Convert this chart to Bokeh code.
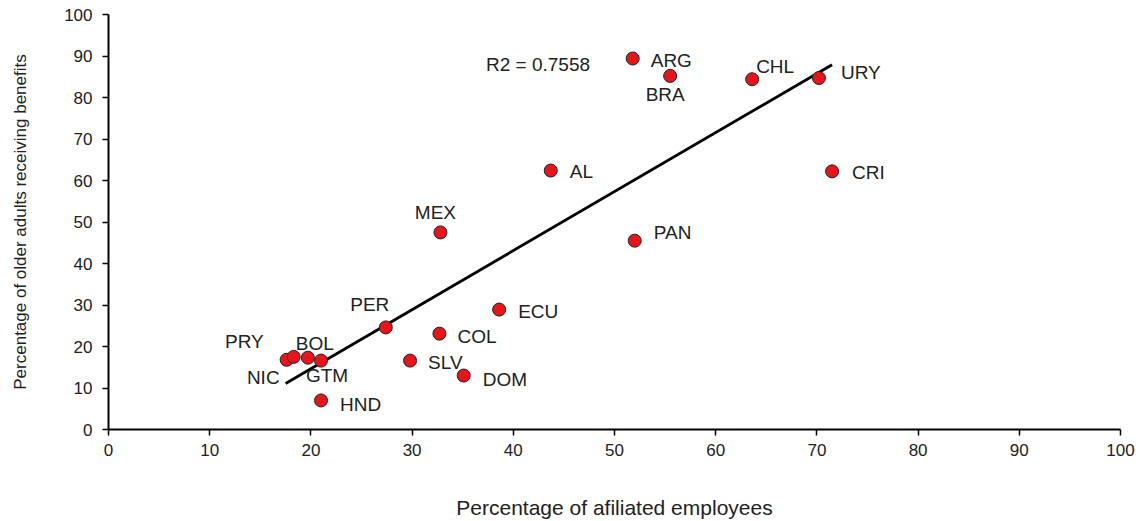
from bokeh.plotting import figure
from bokeh.models import ColumnDataSource, Range1d, Label, FixedTicker
from bokeh.embed import file_html
from bokeh.resources import INLINE
from bokeh.core.properties import value

# ---- data ----
countries = ["ARG", "BRA", "CHL", "URY", "CRI", "AL", "MEX", "PAN", "ECU", "PER",
             "COL", "SLV", "DOM", "HND", "NIC", "PRY", "BOL", "GTM"]
affiliated = [51.8, 55.5, 63.6, 70.2, 71.5, 43.7, 32.8, 52.0, 38.6, 27.4,
              32.7, 29.8, 35.1, 21.0, 17.6, 18.3, 19.7, 21.0]
older_benefits = [89.4, 85.2, 84.4, 84.7, 62.2, 62.4, 47.5, 45.5, 28.9, 24.6,
                  23.1, 16.6, 13.0, 7.0, 16.8, 17.5, 17.3, 16.6]
trend_x = [17.5, 71.5]
trend_y = [11.1, 87.9]
r2_text = "R2 = 0.7558"
x_ticks = [0, 10, 20, 30, 40, 50, 60, 70, 80, 90, 100]
y_ticks = [0, 10, 20, 30, 40, 50, 60, 70, 80, 90, 100]

# ---- label placement (pixel offsets, styling only) ----
label_style = {
    "ARG": (18, 2, "left"), "BRA": (-5, 19, "center"), "CHL": (4, -13, "left"),
    "URY": (22, -5, "left"), "CRI": (20, 1, "left"), "AL": (19, 1, "left"),
    "MEX": (-5, -20, "center"), "PAN": (19, -8, "left"), "ECU": (19, 2, "left"),
    "PER": (-16, -23, "center"), "COL": (18, 3, "left"), "SLV": (18, 2, "left"),
    "DOM": (19, 4, "left"), "HND": (19, 4, "left"), "NIC": (-7, 18, "right"),
    "PRY": (-30, -15, "right"), "BOL": (7, -14, "center"), "GTM": (6, 15, "center"),
}

src = ColumnDataSource(dict(
    x=affiliated, y=older_benefits, name=countries,
    dx=[label_style[c][0] for c in countries],
    dy=[label_style[c][1] for c in countries],
    align=[label_style[c][2] for c in countries],
))

FONT = "Liberation Sans"
TXT = "#222222"

p = figure(width=1141, height=521, output_backend="svg", toolbar_location=None,
           x_range=Range1d(0, 100), y_range=Range1d(0, 100),
           min_border_left=108, min_border_right=21, min_border_top=14, min_border_bottom=92)
p.outline_line_color = None
p.xgrid.grid_line_color = None
p.ygrid.grid_line_color = None
p.background_fill_color = "white"

for ax in (p.xaxis[0], p.yaxis[0]):
    ax.axis_line_color = "black"
    ax.axis_line_width = 2
    ax.major_tick_line_color = "black"
    ax.major_tick_line_width = 1.5
    ax.major_tick_out = 6
    ax.major_tick_in = 0
    ax.minor_tick_line_color = None
    ax.major_label_text_font = FONT
    ax.major_label_text_font_size = "17px"
    ax.major_label_text_color = TXT
    ax.axis_label_text_font = FONT
    ax.axis_label_text_font_style = "normal"
    ax.axis_label_text_color = TXT

p.xaxis.ticker = FixedTicker(ticks=x_ticks)
p.yaxis.ticker = FixedTicker(ticks=y_ticks)
p.xaxis.axis_label = "Percentage of afiliated employees"
p.yaxis.axis_label = "Percentage of older adults receiving benefits"
p.xaxis.axis_label_text_font_size = "21px"
p.yaxis.axis_label_text_font_size = "17px"
p.xaxis.major_label_standoff = 8
p.yaxis.major_label_standoff = 10
p.xaxis.axis_label_standoff = 37
p.yaxis.axis_label_standoff = 31

p.line(trend_x, trend_y, line_color="black", line_width=2.8)
p.scatter("x", "y", source=src, size=13, fill_color="#E8141B",
          line_color="#222222", line_width=1)
p.text("x", "y", text="name", source=src, x_offset="dx", y_offset="dy",
       text_align="align", text_baseline="middle",
       text_font=value(FONT), text_font_size="19px", text_color=TXT)

p.add_layout(Label(x=37.3, y=88.0, text=r2_text, text_font=FONT,
                   text_font_size="19px", text_color=TXT, text_baseline="middle"))

open("out.html", "w").write(file_html(p, INLINE))
